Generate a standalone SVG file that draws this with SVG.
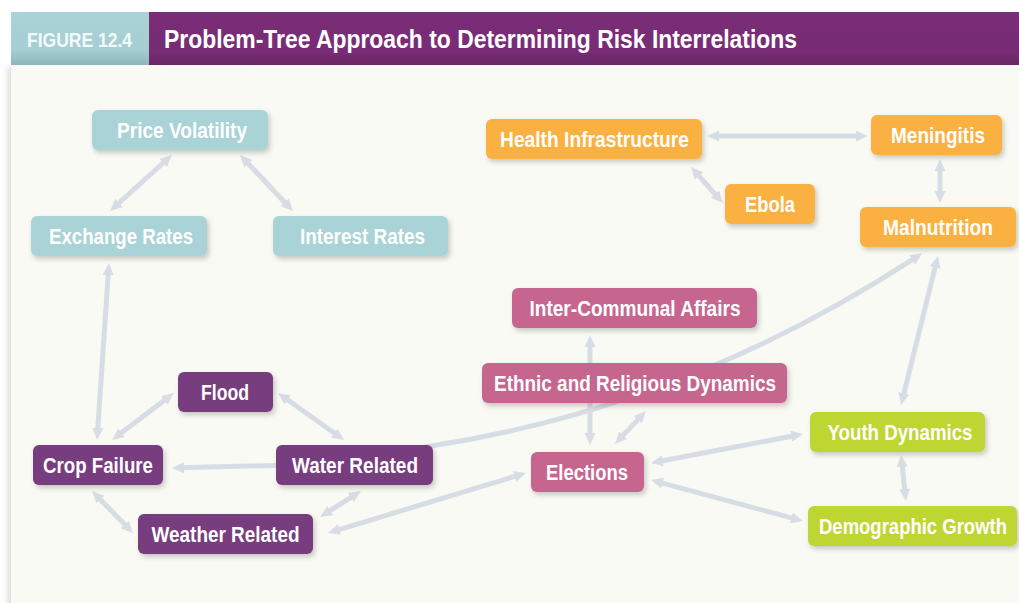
<svg xmlns="http://www.w3.org/2000/svg" width="1019" height="603" viewBox="0 0 1019 603">
<defs>
<style>
.lbl{font-family:"Liberation Sans Narrow","Liberation Sans",Arial,sans-serif;font-weight:bold;font-size:22px;fill:#ffffff;text-anchor:middle}
.teal rect{fill:#a9d3d7}
.orange rect{fill:#fbb042}
.pink rect{fill:#c6668f}
.purple rect{fill:#773d7e}
.lime rect{fill:#bdd631}
.node rect{filter:url(#sh)}
#connectors path,#connectors line{stroke:#d8dce4;stroke-width:5;fill:none}
.bi{marker-start:url(#ah);marker-end:url(#ah)}
.uni{marker-end:url(#ah)}
</style>
<filter id="sh" x="-10%" y="-20%" width="130%" height="160%">
<feDropShadow dx="2" dy="3" stdDeviation="2.5" flood-color="#000" flood-opacity="0.2"/>
</filter>
<filter id="psh" x="-5%" y="-5%" width="110%" height="110%">
<feDropShadow dx="-3" dy="2" stdDeviation="3" flood-color="#000" flood-opacity="0.15"/>
</filter>
<linearGradient id="gp" x1="0" y1="0" x2="0" y2="1">
<stop offset="0" stop-color="#7b2d78"/>
<stop offset="0.75" stop-color="#782c75"/>
<stop offset="1" stop-color="#682664"/>
</linearGradient>
<linearGradient id="gt" x1="0" y1="0" x2="0" y2="1">
<stop offset="0" stop-color="#a9d3d7"/>
<stop offset="0.7" stop-color="#a5cfd3"/>
<stop offset="1" stop-color="#8eb5ba"/>
</linearGradient>
<marker id="ah" viewBox="0 0 12 11" markerWidth="12" markerHeight="11" refX="3" refY="5.5" orient="auto-start-reverse" markerUnits="userSpaceOnUse">
<path d="M0,0 L12,5.5 L0,11 z" fill="#d8dce4"/>
</marker>
</defs>

<rect x="0" y="0" width="1019" height="603" fill="#ffffff"/>
<rect x="11" y="65" width="1020" height="560" fill="#f9faf3" filter="url(#psh)"/>

<g id="header">
<rect x="149" y="12" width="870" height="53" fill="url(#gp)"/>
<rect x="11" y="12" width="138" height="53" fill="url(#gt)"/>
<text x="79.5" y="47" font-family="Liberation Sans Narrow,Liberation Sans,Arial,sans-serif" font-weight="bold" font-size="21" fill="#f3fafa" text-anchor="middle" textLength="105" lengthAdjust="spacingAndGlyphs">FIGURE 12.4</text>
<text x="164" y="48" font-family="Liberation Sans Narrow,Liberation Sans,Arial,sans-serif" font-weight="bold" font-size="26" fill="#ffffff" textLength="633" lengthAdjust="spacingAndGlyphs">Problem-Tree Approach to Determining Risk Interrelations</text>
</g>

<g id="connectors">
<line class="bi" x1="165.3" y1="161" x2="116.7" y2="205"/>
<line class="bi" x1="246.2" y1="161.5" x2="286.8" y2="204.5"/>
<line class="bi" x1="108.4" y1="272" x2="97.6" y2="431"/>
<line class="bi" x1="166.8" y1="398.4" x2="119.2" y2="434.6"/>
<line class="bi" x1="285.3" y1="398.2" x2="336.7" y2="434.8"/>
<line class="uni" x1="290" y1="465" x2="181" y2="467.8"/>
<line class="bi" x1="98.3" y1="497.4" x2="126.7" y2="526.6"/>
<line class="bi" x1="353.4" y1="495.8" x2="327.6" y2="512.2"/>
<line class="bi" x1="336.6" y1="530.4" x2="517.4" y2="475.6"/>
<path class="uni" d="M425,447 Q685,408 914.6,258.2"/>
<line class="bi" x1="590" y1="344" x2="590" y2="436"/>
<line class="bi" x1="639.8" y1="417.6" x2="621.2" y2="437.4"/>
<line class="bi" x1="659.8" y1="461.3" x2="794.2" y2="435.7"/>
<line class="bi" x1="659.7" y1="482.3" x2="794.3" y2="518.7"/>
<line class="bi" x1="902" y1="464" x2="905" y2="492"/>
<line class="bi" x1="935.8" y1="264.7" x2="903.2" y2="396.3"/>
<line class="bi" x1="716" y1="136" x2="859" y2="136"/>
<line class="bi" x1="697" y1="173.7" x2="717" y2="196.3"/>
<line class="bi" x1="940" y1="168" x2="940" y2="194"/>
</g>

<g id="price-volatility" class="node teal"><rect x="92" y="110" width="176" height="40" rx="6"/><text class="lbl" x="182" y="137.5" textLength="130" lengthAdjust="spacingAndGlyphs">Price Volatility</text></g>
<g id="exchange-rates" class="node teal"><rect x="31" y="216" width="176" height="40" rx="6"/><text class="lbl" x="121" y="243.5" textLength="144" lengthAdjust="spacingAndGlyphs">Exchange Rates</text></g>
<g id="interest-rates" class="node teal"><rect x="273" y="216" width="175" height="40" rx="6"/><text class="lbl" x="362.5" y="243.5" textLength="125" lengthAdjust="spacingAndGlyphs">Interest Rates</text></g>

<g id="health-infrastructure" class="node orange"><rect x="486" y="119" width="216" height="40" rx="6"/><text class="lbl" x="594.5" y="146.5" textLength="189" lengthAdjust="spacingAndGlyphs">Health Infrastructure</text></g>
<g id="meningitis" class="node orange"><rect x="871" y="115" width="131" height="40" rx="6"/><text class="lbl" x="938" y="142.5" textLength="94" lengthAdjust="spacingAndGlyphs">Meningitis</text></g>
<g id="ebola" class="node orange"><rect x="725" y="184" width="90" height="40" rx="6"/><text class="lbl" x="770" y="211.5" textLength="50" lengthAdjust="spacingAndGlyphs">Ebola</text></g>
<g id="malnutrition" class="node orange"><rect x="860" y="207" width="156" height="40" rx="6"/><text class="lbl" x="938" y="234.5" textLength="110" lengthAdjust="spacingAndGlyphs">Malnutrition</text></g>

<g id="inter-communal-affairs" class="node pink"><rect x="512" y="288" width="245" height="40" rx="6"/><text class="lbl" x="635" y="315.5" textLength="211" lengthAdjust="spacingAndGlyphs">Inter-Communal Affairs</text></g>
<g id="ethnic-religious-dynamics" class="node pink"><rect x="482" y="363" width="305" height="40" rx="6"/><text class="lbl" x="635" y="390.5" textLength="282" lengthAdjust="spacingAndGlyphs">Ethnic and Religious Dynamics</text></g>
<g id="elections" class="node pink"><rect x="531" y="452" width="113" height="40" rx="6"/><text class="lbl" x="587" y="479.5" textLength="82" lengthAdjust="spacingAndGlyphs">Elections</text></g>

<g id="youth-dynamics" class="node lime"><rect x="810" y="412" width="175" height="40" rx="6"/><text class="lbl" x="900" y="439.5" textLength="145" lengthAdjust="spacingAndGlyphs">Youth Dynamics</text></g>
<g id="demographic-growth" class="node lime"><rect x="808" y="506" width="209" height="40" rx="6"/><text class="lbl" x="913" y="533.5" textLength="188" lengthAdjust="spacingAndGlyphs">Demographic Growth</text></g>

<g id="flood" class="node purple"><rect x="178" y="372" width="95" height="40" rx="6"/><text class="lbl" x="225" y="399.5" textLength="48" lengthAdjust="spacingAndGlyphs">Flood</text></g>
<g id="crop-failure" class="node purple"><rect x="33" y="445" width="130" height="40" rx="6"/><text class="lbl" x="98" y="472.5" textLength="110" lengthAdjust="spacingAndGlyphs">Crop Failure</text></g>
<g id="water-related" class="node purple"><rect x="276" y="445" width="157" height="40" rx="6"/><text class="lbl" x="355" y="472.5" textLength="126" lengthAdjust="spacingAndGlyphs">Water Related</text></g>
<g id="weather-related" class="node purple"><rect x="138" y="514" width="175" height="40" rx="6"/><text class="lbl" x="225.5" y="541.5" textLength="148" lengthAdjust="spacingAndGlyphs">Weather Related</text></g>
</svg>
